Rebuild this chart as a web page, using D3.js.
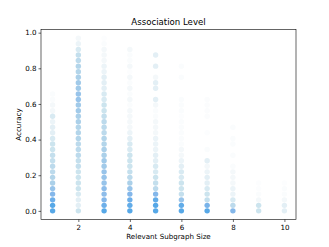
<!DOCTYPE html>
<html>
<head>
<meta charset="utf-8">
<script src="https://cdn.jsdelivr.net/npm/d3@7"></script>
<style>
  body { margin: 0; background: #fff; }
  text { font-family: "DejaVu Sans", sans-serif; fill: #000; }
</style>
</head>
<body>
<div id="chart"></div>
<script>
// Chart size
var svgWidth = 329;
var svgHeight = 247;

var margin = { top: 29.6, right: 33, bottom: 27.5, left: 41 };
var width = svgWidth - margin.left - margin.right;
var height = svgHeight - margin.top - margin.bottom;

// Data: subgraph sizes, accuracy levels, and the density (0-10) of points at each level
var sizes = [1, 2, 3, 4, 5, 6, 7, 8, 9, 10];
var accuracyLevels = [0.000, 0.031, 0.062, 0.094, 0.125, 0.156, 0.188, 0.219,
  0.250, 0.281, 0.312, 0.344, 0.375, 0.406, 0.438, 0.469,
  0.500, 0.531, 0.562, 0.594, 0.625, 0.656, 0.688, 0.719,
  0.750, 0.781, 0.812, 0.844, 0.875, 0.906, 0.938, 0.969];

var size1 = [9, 9, 8, 7, 6, 5, 4.5, 4, 4, 3.5, 3.5, 3, 3, 2.5, 2, 2, 1.5, 2.5, 1, 1, 0.5, 0.5, 0, 0, 0, 0, 0, 0, 0, 0, 0, 0];
var size2 = [3, 2, 2, 2.5, 3, 3, 3, 3, 3.5, 3.5, 4, 4, 4, 4.5, 4.5, 4.5, 5, 5, 5.5, 5.5, 6, 6, 5.5, 5.5, 5, 4.5, 4.5, 4, 3.5, 2.5, 1.5, 1];
var size3 = [9, 8, 7, 6.5, 6.5, 6, 6, 6, 5.5, 5.5, 5, 5, 4.5, 4.5, 4, 4, 4, 3.5, 3, 3, 2.5, 2.5, 2, 2, 2, 1.5, 1.5, 1, 1, 1, 0.5, 0.3];
var size4 = [9, 8.5, 8, 7, 6, 5, 4, 3.5, 3, 3, 3, 2.5, 2.5, 2, 1.5, 1, 1, 1, 1, 0.5, 1, 0.5, 1, 0.5, 1, 0.3, 1, 0.5, 0.5, 1, 0, 0];
var size5 = [9, 9, 8.5, 7, 4, 3.5, 3, 2.5, 2.5, 2, 2, 1.5, 1.5, 1.5, 1, 1, 1, 0.5, 0.5, 1, 2, 0, 2, 2, 1, 0, 2, 0, 2, 0, 0, 0];
var size6 = [9, 8.5, 6, 3.5, 3, 3, 2.5, 2.5, 2, 1.5, 1, 1, 0.5, 0.5, 0.5, 0.5, 0.5, 0.3, 0.5, 0.5, 0.5, 0, 0, 0, 0.5, 0, 0.5, 0, 0, 0, 0, 0];
var size7 = [9, 7.5, 3.5, 3, 2.5, 2, 2, 1.5, 1, 2, 0, 0.5, 0, 0, 0.3, 0, 0, 0.4, 0.4, 0.4, 0.4, 0, 0, 0, 0, 0, 0, 0, 0, 0, 0, 0];
var size8 = [7, 4, 2.5, 1.5, 1.5, 1, 1, 1, 0.5, 0, 0.5, 0, 0.5, 0.5, 0, 0.5, 0, 0, 0, 0, 0, 0, 0, 0, 0, 0, 0, 0, 0, 0, 0, 0];
var size9 = [3, 3, 1, 0.5, 0.3, 0.3, 0, 0, 0, 0, 0, 0, 0, 0, 0, 0, 0, 0, 0, 0, 0, 0, 0, 0, 0, 0, 0, 0, 0, 0, 0, 0];
var size10 = [2, 2, 1, 0.5, 0.5, 0.3, 0, 0, 0, 0, 0, 0, 0, 0, 0, 0, 0, 0, 0, 0, 0, 0, 0, 0, 0, 0, 0, 0, 0, 0, 0, 0];

var densities = [size1, size2, size3, size4, size5, size6, size7, size8, size9, size10];

var xTicks = [2, 4, 6, 8, 10];
var yTicks = [0.0, 0.2, 0.4, 0.6, 0.8, 1.0];

// Flatten into points
var points = [];
sizes.forEach(function(s, i) {
  densities[i].forEach(function(v, k) {
    if (v > 0) points.push({ size: s, acc: accuracyLevels[k], v: v });
  });
});
points.sort(function(a, b) { return a.v - b.v; });

var svg = d3.select("#chart")
  .append("svg")
  .attr("width", svgWidth)
  .attr("height", svgHeight);

var chartGroup = svg.append("g")
  .attr("transform", `translate(${margin.left}, ${margin.top})`);

// Scales
var xScale = d3.scaleLinear().domain([0.55, 10.45]).range([0, width]);
var yScale = d3.scaleLinear().domain([-0.0484, 1.0172]).range([height, 0]);

var color = d3.scaleLinear()
  .domain([0, 1, 2, 3, 5, 7, 10])
  .range(["#ffffff", "#f4f8fa", "#e3eff5", "#cce4ee", "#abd0e9", "#84b7ea", "#40a0e6"]);

// Points
chartGroup.selectAll("circle")
  .data(points)
  .enter()
  .append("circle")
  .attr("cx", d => xScale(d.size))
  .attr("cy", d => yScale(d.acc))
  .attr("r", 2.7)
  .attr("fill", d => color(d.v));

// Axes
var bottomAxis = d3.axisBottom(xScale).tickValues(xTicks).tickSize(2.5).tickPadding(2.5)
  .tickFormat(d3.format("d"));
var leftAxis = d3.axisLeft(yScale).tickValues(yTicks).tickSize(2.5).tickPadding(2)
  .tickFormat(d3.format(".1f"));

var gx = chartGroup.append("g")
  .attr("transform", `translate(0, ${height})`)
  .call(bottomAxis);
var gy = chartGroup.append("g").call(leftAxis);

[gx, gy].forEach(function(g) {
  g.select(".domain").remove();
  g.selectAll(".tick line").attr("stroke", "#000").attr("stroke-width", 0.6);
  g.selectAll(".tick text").attr("font-size", "7.1px").attr("fill", "#000")
    .style("font-family", "DejaVu Sans");
});

// Frame
chartGroup.append("rect")
  .attr("x", 0).attr("y", 0)
  .attr("width", width).attr("height", height)
  .attr("fill", "none")
  .attr("stroke", "#000")
  .attr("stroke-width", 0.6);

// Title
chartGroup.append("text")
  .attr("x", width / 2)
  .attr("y", -4.3)
  .attr("text-anchor", "middle")
  .attr("font-size", "8.6px")
  .text("Association Level");

// X axis label
chartGroup.append("text")
  .attr("x", width / 2)
  .attr("y", height + 20)
  .attr("text-anchor", "middle")
  .attr("font-size", "7.1px")
  .text("Relevant Subgraph Size");

// Y axis label
chartGroup.append("text")
  .attr("transform", "rotate(-90)")
  .attr("x", -height / 2)
  .attr("y", -20.5)
  .attr("text-anchor", "middle")
  .attr("font-size", "7.1px")
  .text("Accuracy");
</script>
</body>
</html>
